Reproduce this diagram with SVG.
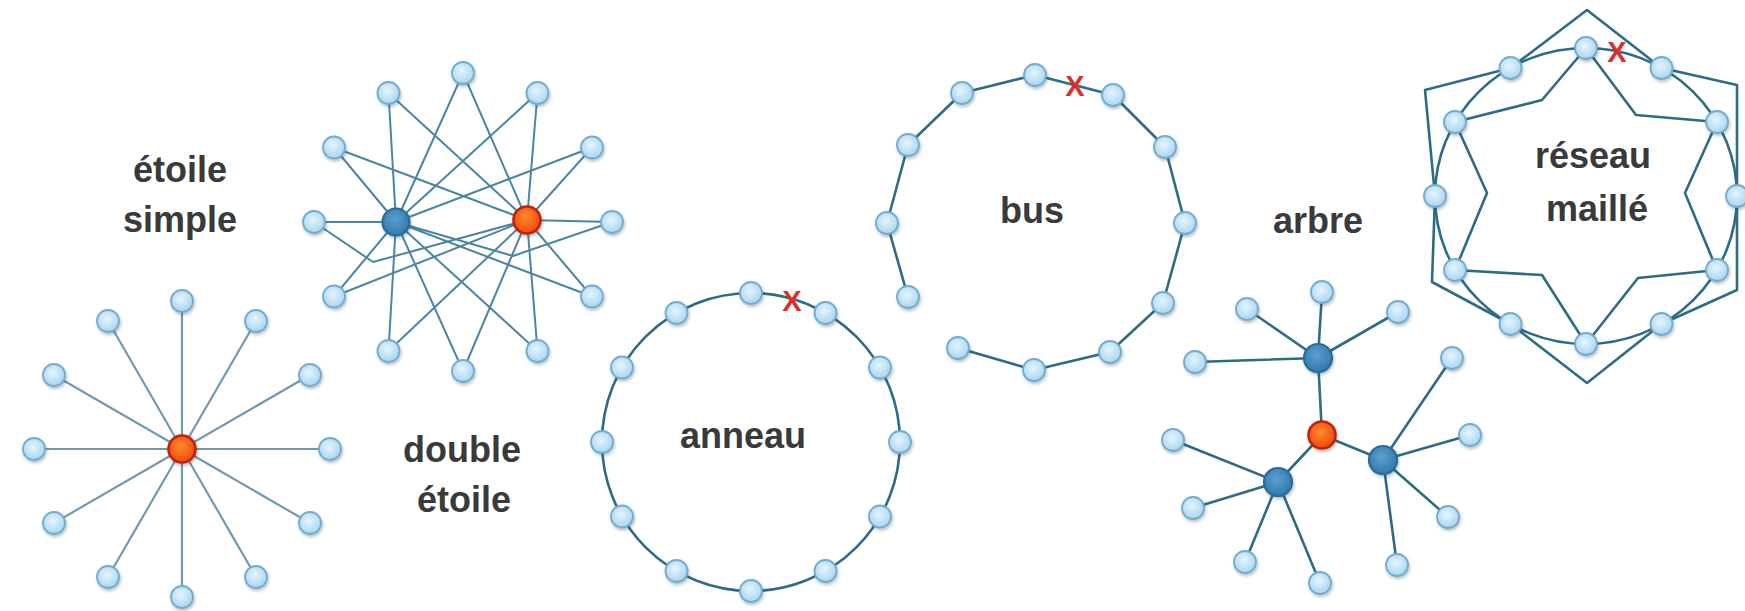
<svg xmlns="http://www.w3.org/2000/svg" width="1745" height="611" viewBox="0 0 1745 611">
<defs>
<radialGradient id="gl" cx="0.45" cy="0.4" r="0.6"><stop offset="0" stop-color="#e4f5fd"/><stop offset="1" stop-color="#a9d5ef"/></radialGradient>
<radialGradient id="gb" cx="0.45" cy="0.4" r="0.6"><stop offset="0" stop-color="#5a9fce"/><stop offset="1" stop-color="#3479ad"/></radialGradient>
<radialGradient id="gr" cx="0.45" cy="0.4" r="0.6"><stop offset="0" stop-color="#ff8a2a"/><stop offset="1" stop-color="#ec4a10"/></radialGradient>
<filter id="sh" x="-50%" y="-50%" width="200%" height="200%"><feDropShadow dx="1" dy="2" stdDeviation="1.4" flood-color="#1a3a50" flood-opacity="0.32"/></filter>
<style>
.n{fill:url(#gl);stroke:#72acd0;stroke-width:1.8;filter:url(#sh)}
.hb{fill:url(#gb);stroke:#2a6c98;stroke-width:2.2;filter:url(#sh)}
.hr{fill:url(#gr);stroke:#c4200c;stroke-width:2.6;filter:url(#sh)}
.l1{stroke:#7199b2;stroke-width:2.2;fill:none}
.l2{stroke:#4a86a4;stroke-width:2;fill:none;stroke-linejoin:round}
.l3{stroke:#2c6c84;stroke-width:2.6;fill:none;stroke-linejoin:round}
.lbl{font-family:"Liberation Sans",Arial,sans-serif;font-weight:bold;font-size:36px;fill:#3a3a3a;text-anchor:middle}
.x{font-family:"Liberation Sans",Arial,sans-serif;font-weight:bold;font-size:29px;fill:#d9302c;text-anchor:middle}
</style>
</defs>
<rect width="1745" height="611" fill="#ffffff"/>

<g id="connectors">
<g id="c-star">
<path class="l1" d="M182 449L182 301M182 449L256 321M182 449L310 375M182 449L330 449M182 449L310 523M182 449L256 577M182 449L182 597M182 449L108 577M182 449L54 523M182 449L34 449M182 449L54 375M182 449L108 321"/>
</g>
<g id="c-dstar">
<path class="l2" d="M463 73L396 222M463 73L527 220M537.5 93L396 222M537.5 93L527 220M592 147.5L396 222M592 147.5L527 220M612 222L527 220M612 222L513 256L396 222M592 296.5L396 222M592 296.5L527 220M537.5 351L396 222M537.5 351L527 220M463 371L396 222M463 371L527 220M388.5 351L396 222M388.5 351L527 220M334 296.5L396 222M334 296.5L527 220M314 222L396 222M314 222L373 262L527 220M334 147.5L396 222M334 147.5L527 220M388.5 93L396 222M388.5 93L527 220"/>
</g>
<g id="c-ring"><circle class="l3" cx="751" cy="442" r="149"/></g>
<g id="c-bus"><polyline class="l3" points="958,348 1034,370 1110,352 1163,303 1185,223 1165,147 1113,95 1035,75 962,93 908,145 887,223 908,297"/></g>
<g id="c-tree">
<path class="l3" d="M1322 435L1318 358M1322 435L1383 460M1322 435L1278 482M1318 358L1322 292M1318 358L1247 309M1318 358L1398 312M1318 358L1195 362M1383 460L1452 358M1383 460L1470 435M1383 460L1448 517M1383 460L1397 565M1278 482L1173 440M1278 482L1193 508M1278 482L1245 562M1278 482L1320 583"/>
</g>
<g id="c-mesh">
<ellipse class="l3" cx="1586" cy="196" rx="151" ry="148"/>
<polygon class="l3" points="1587,10 1510.5,68 1425,90 1435,196 1432,282 1510.5,324 1587,383 1661.5,324 1737,290 1737,196 1737,85 1661.5,68"/>
<polygon class="l3" points="1586,48 1542,100 1455,122 1487,193 1455,270 1542,275 1586,344 1638,278 1717,270 1685,193 1717,122 1636,115"/>
</g>
</g>

<g id="star-simple">
<g id="ss1"><circle class="n" cx="182" cy="301" r="11"/></g>
<g id="ss2"><circle class="n" cx="256" cy="321" r="11"/></g>
<g id="ss3"><circle class="n" cx="310" cy="375" r="11"/></g>
<g id="ss4"><circle class="n" cx="330" cy="449" r="11"/></g>
<g id="ss5"><circle class="n" cx="310" cy="523" r="11"/></g>
<g id="ss6"><circle class="n" cx="256" cy="577" r="11"/></g>
<g id="ss7"><circle class="n" cx="182" cy="597" r="11"/></g>
<g id="ss8"><circle class="n" cx="108" cy="577" r="11"/></g>
<g id="ss9"><circle class="n" cx="54" cy="523" r="11"/></g>
<g id="ss10"><circle class="n" cx="34" cy="449" r="11"/></g>
<g id="ss11"><circle class="n" cx="54" cy="375" r="11"/></g>
<g id="ss12"><circle class="n" cx="108" cy="321" r="11"/></g>
<g id="ss-hub"><circle class="hr" cx="182" cy="449" r="13.5"/></g>
</g>

<g id="double-star">
<g id="ds1"><circle class="n" cx="463" cy="73" r="11"/></g>
<g id="ds2"><circle class="n" cx="537.5" cy="93" r="11"/></g>
<g id="ds3"><circle class="n" cx="592" cy="147.5" r="11"/></g>
<g id="ds4"><circle class="n" cx="612" cy="222" r="11"/></g>
<g id="ds5"><circle class="n" cx="592" cy="296.5" r="11"/></g>
<g id="ds6"><circle class="n" cx="537.5" cy="351" r="11"/></g>
<g id="ds7"><circle class="n" cx="463" cy="371" r="11"/></g>
<g id="ds8"><circle class="n" cx="388.5" cy="351" r="11"/></g>
<g id="ds9"><circle class="n" cx="334" cy="296.5" r="11"/></g>
<g id="ds10"><circle class="n" cx="314" cy="222" r="11"/></g>
<g id="ds11"><circle class="n" cx="334" cy="147.5" r="11"/></g>
<g id="ds12"><circle class="n" cx="388.5" cy="93" r="11"/></g>
<g id="ds-hub-blue"><circle class="hb" cx="396" cy="222" r="13.5"/></g>
<g id="ds-hub-red"><circle class="hr" cx="527" cy="220" r="13.5"/></g>
</g>

<g id="ring">
<g id="rg1"><circle class="n" cx="751" cy="293" r="11"/></g>
<g id="rg2"><circle class="n" cx="825.5" cy="313" r="11"/></g>
<g id="rg3"><circle class="n" cx="880" cy="367.5" r="11"/></g>
<g id="rg4"><circle class="n" cx="900" cy="442" r="11"/></g>
<g id="rg5"><circle class="n" cx="880" cy="516.5" r="11"/></g>
<g id="rg6"><circle class="n" cx="825.5" cy="571" r="11"/></g>
<g id="rg7"><circle class="n" cx="751" cy="591" r="11"/></g>
<g id="rg8"><circle class="n" cx="676.5" cy="571" r="11"/></g>
<g id="rg9"><circle class="n" cx="622" cy="516.5" r="11"/></g>
<g id="rg10"><circle class="n" cx="602" cy="442" r="11"/></g>
<g id="rg11"><circle class="n" cx="622" cy="367.5" r="11"/></g>
<g id="rg12"><circle class="n" cx="676.5" cy="313" r="11"/></g>
</g>

<g id="bus">
<g id="bs1"><circle class="n" cx="1035" cy="75" r="11"/></g>
<g id="bs2"><circle class="n" cx="1113" cy="95" r="11"/></g>
<g id="bs3"><circle class="n" cx="1165" cy="147" r="11"/></g>
<g id="bs4"><circle class="n" cx="1185" cy="223" r="11"/></g>
<g id="bs5"><circle class="n" cx="1163" cy="303" r="11"/></g>
<g id="bs6"><circle class="n" cx="1110" cy="352" r="11"/></g>
<g id="bs7"><circle class="n" cx="1034" cy="370" r="11"/></g>
<g id="bs8"><circle class="n" cx="958" cy="348" r="11"/></g>
<g id="bs9"><circle class="n" cx="908" cy="297" r="11"/></g>
<g id="bs10"><circle class="n" cx="887" cy="223" r="11"/></g>
<g id="bs11"><circle class="n" cx="908" cy="145" r="11"/></g>
<g id="bs12"><circle class="n" cx="962" cy="93" r="11"/></g>
</g>

<g id="tree">
<g id="tr-t1"><circle class="n" cx="1322" cy="292" r="11"/></g>
<g id="tr-t2"><circle class="n" cx="1247" cy="309" r="11"/></g>
<g id="tr-t3"><circle class="n" cx="1398" cy="312" r="11"/></g>
<g id="tr-t4"><circle class="n" cx="1195" cy="362" r="11"/></g>
<g id="tr-r1"><circle class="n" cx="1452" cy="358" r="11"/></g>
<g id="tr-r2"><circle class="n" cx="1470" cy="435" r="11"/></g>
<g id="tr-r3"><circle class="n" cx="1448" cy="517" r="11"/></g>
<g id="tr-r4"><circle class="n" cx="1397" cy="565" r="11"/></g>
<g id="tr-l1"><circle class="n" cx="1173" cy="440" r="11"/></g>
<g id="tr-l2"><circle class="n" cx="1193" cy="508" r="11"/></g>
<g id="tr-l3"><circle class="n" cx="1245" cy="562" r="11"/></g>
<g id="tr-l4"><circle class="n" cx="1320" cy="583" r="11"/></g>
<g id="tr-hub-top"><circle class="hb" cx="1318" cy="358" r="14"/></g>
<g id="tr-hub-right"><circle class="hb" cx="1383" cy="460" r="14"/></g>
<g id="tr-hub-left"><circle class="hb" cx="1278" cy="482" r="14"/></g>
<g id="tr-root"><circle class="hr" cx="1322" cy="435" r="13.5"/></g>
</g>

<g id="mesh">
<g id="ms1"><circle class="n" cx="1586" cy="48" r="11"/></g>
<g id="ms2"><circle class="n" cx="1661.5" cy="68" r="11"/></g>
<g id="ms3"><circle class="n" cx="1717" cy="122" r="11"/></g>
<g id="ms4"><circle class="n" cx="1737" cy="196" r="11"/></g>
<g id="ms5"><circle class="n" cx="1717" cy="270" r="11"/></g>
<g id="ms6"><circle class="n" cx="1661.5" cy="324" r="11"/></g>
<g id="ms7"><circle class="n" cx="1586" cy="344" r="11"/></g>
<g id="ms8"><circle class="n" cx="1510.5" cy="324" r="11"/></g>
<g id="ms9"><circle class="n" cx="1455" cy="270" r="11"/></g>
<g id="ms10"><circle class="n" cx="1435" cy="196" r="11"/></g>
<g id="ms11"><circle class="n" cx="1455" cy="122" r="11"/></g>
<g id="ms12"><circle class="n" cx="1510.5" cy="68" r="11"/></g>
</g>

<g id="breaks">
<text class="x" x="792" y="311">X</text>
<text class="x" x="1075" y="96">X</text>
<text class="x" x="1617" y="62">X</text>
</g>

<g id="labels">
<text class="lbl" x="180" y="182">étoile</text>
<text class="lbl" x="180" y="232">simple</text>
<text class="lbl" x="462" y="462">double</text>
<text class="lbl" x="464" y="512">étoile</text>
<text class="lbl" x="743" y="448">anneau</text>
<text class="lbl" x="1032" y="223">bus</text>
<text class="lbl" x="1318" y="233">arbre</text>
<text class="lbl" x="1593" y="168">réseau</text>
<text class="lbl" x="1597" y="221">maillé</text>
</g>
</svg>
